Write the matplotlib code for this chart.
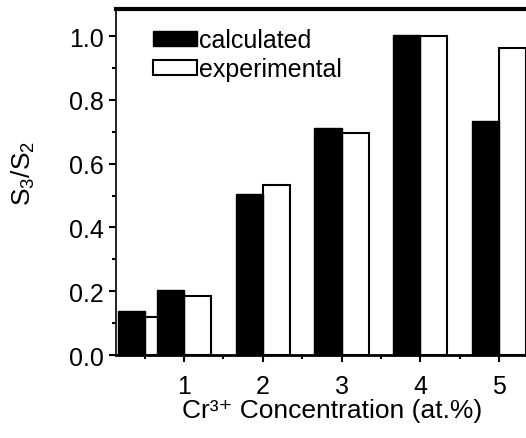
import matplotlib
matplotlib.use("Agg")
import matplotlib.pyplot as plt
import numpy as np
from matplotlib.ticker import MultipleLocator

plt.rcParams["font.family"] = ["Liberation Sans", "DejaVu Sans"]
plt.rcParams["mathtext.fontset"] = "custom"
plt.rcParams["mathtext.rm"] = "Liberation Sans"
plt.rcParams["mathtext.it"] = "Liberation Sans"

# Cr3+ concentration (at.%) and S3/S2 ratios
concentration = [0.5, 1, 2, 3, 4, 5]
calculated = [0.138, 0.205, 0.505, 0.712, 1.005, 0.733]
experimental = [0.119, 0.185, 0.533, 0.695, 1.0, 0.963]

xticks = [1, 2, 3, 4, 5]
yticks = [0.0, 0.2, 0.4, 0.6, 0.8, 1.0]

width = 0.343
x = np.array(concentration)

fig = plt.figure(figsize=(5.26, 4.39), dpi=100)
ax = fig.add_axes([0.2205, 0.189, 0.7795, 0.788])

# white bars first, so the next black bar overlaps the first open bar
ax.bar(x + width / 2, experimental, width, color="white", edgecolor="black",
       linewidth=1.5, label="experimental", zorder=2)
ax.bar(x - width / 2, calculated, width, color="black", edgecolor="black",
       linewidth=1.0, label="calculated", zorder=3)

ax.set_xlim(0.136, 5.343)
ax.set_ylim(0, 1.085)
ax.set_xticks(xticks)
ax.set_yticks(yticks)
ax.set_yticklabels([f"{v:.1f}" for v in yticks])
ax.xaxis.set_minor_locator(MultipleLocator(0.5))
ax.yaxis.set_minor_locator(MultipleLocator(0.1))
ax.tick_params(axis="both", which="major", direction="out", length=5, width=1.5,
               labelsize=18, colors="black")
ax.tick_params(axis="both", which="minor", direction="out", length=3, width=1.5)
ax.tick_params(axis="x", which="major", pad=9)
ax.tick_params(axis="y", which="major", pad=4)

ax.spines["top"].set_linewidth(3)
ax.spines["bottom"].set_linewidth(2)
ax.spines["left"].set_linewidth(1.2)
ax.spines["right"].set_visible(False)

ax.set_xlabel("Cr³⁺ Concentration (at.%)", fontsize=19)
ax.xaxis.set_label_coords(0.527, -0.125, transform=ax.transAxes)
ax.xaxis.label.set_va("top")
ax.set_ylabel("S$_3$/S$_2$", fontsize=19)
ax.yaxis.set_label_coords(-0.193, 0.527, transform=ax.transAxes)

handles, labels = ax.get_legend_handles_labels()
ax.legend(handles[::-1], labels[::-1], loc="upper left", bbox_to_anchor=(0.09, 0.945),
          frameon=False, fontsize=18, handlelength=1.75, handleheight=0.55,
          handletextpad=0.1, borderpad=0, borderaxespad=0, labelspacing=0.2)

fig.savefig("out.png", dpi=100)
